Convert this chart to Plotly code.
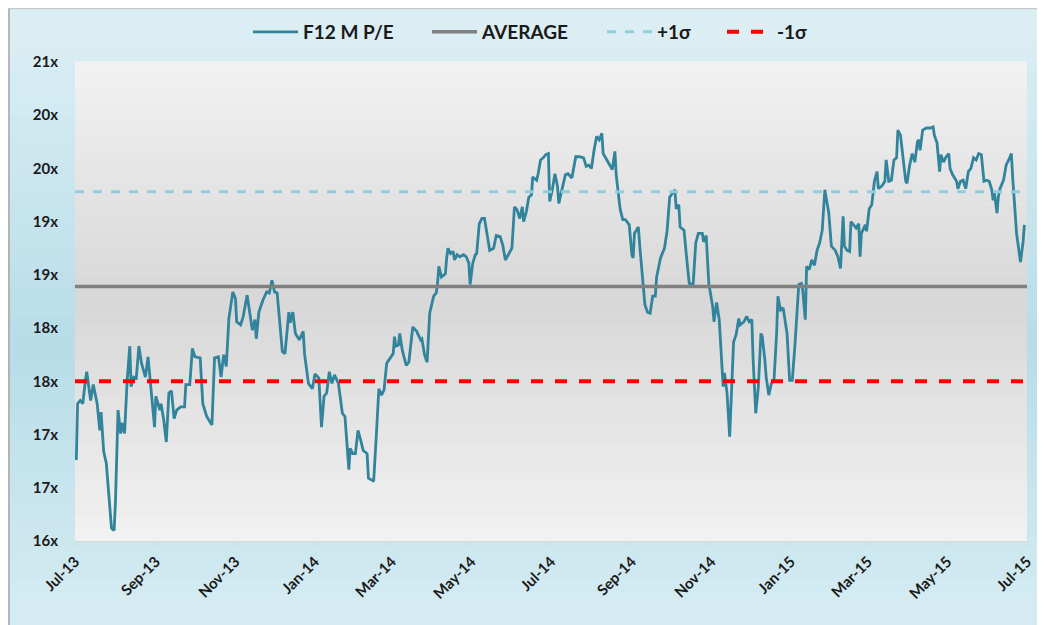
import pandas as pd
import plotly.graph_objects as go

# days since 1 Jul 2013, forward 12m P/E
days = [1, 2, 4, 6, 8, 9, 12, 14, 17, 19, 20, 22, 24, 26, 28, 30, 31, 33, 35, 36,
        38, 40, 42, 43, 45, 47, 49, 51, 54, 56, 59, 61, 62, 65, 66, 68, 70, 72, 74, 76,
        78, 81, 84, 85, 88, 90, 92, 96, 98, 101, 105, 107, 110, 112, 114, 116, 118, 121, 123, 124,
        127, 129, 132, 134, 136, 138, 139, 141, 144, 147, 149, 151, 153, 155, 157, 159, 161, 164, 165, 167,
        169, 172, 175, 176, 179, 182, 184, 187, 189, 191, 193, 195, 197, 199, 202, 205, 207, 210, 211, 213,
        215, 217, 219, 221, 224, 225, 228, 229, 231, 233, 235, 237, 239, 242, 244, 245, 246, 248, 249, 251,
        254, 256, 259, 262, 265, 266, 268, 270, 272, 275, 277, 278, 279, 281, 284, 285, 286, 288, 290, 291,
        293, 295, 298, 300, 302, 303, 305, 307, 308, 310, 312, 314, 316, 318, 321, 323, 326, 328, 330, 332,
        335, 337, 339, 341, 343, 344, 346, 348, 350, 351, 354, 355, 357, 359, 361, 363, 364, 366, 368, 370,
        371, 373, 376, 378, 381, 384, 387, 390, 392, 394, 396, 398, 400, 402, 404, 405, 408, 410, 412, 414,
        415, 418, 420, 422, 425, 427, 428, 429, 432, 433, 435, 437, 439, 441, 443, 445, 446, 449, 452, 454,
        456, 458, 460, 461, 463, 464, 467, 469, 471, 474, 476, 478, 481, 482, 484, 486, 489, 490, 492, 494,
        496, 497, 498, 500, 502, 504, 505, 507, 509, 510, 513, 515, 517, 519, 520, 522, 524, 526, 527, 529,
        530, 532, 534, 536, 538, 539, 541, 543, 546, 548, 550, 552, 555, 557, 558, 560, 561, 563, 565, 567,
        569, 571, 573, 575, 578, 580, 583, 585, 587, 589, 590, 592, 594, 595, 597, 599, 601, 602, 603, 606,
        607, 609, 611, 613, 615, 616, 619, 621, 622, 624, 626, 628, 630, 631, 633, 635, 637, 638, 640, 642,
        644, 646, 647, 648, 650, 653, 656, 658, 659, 661, 663, 664, 666, 668, 670, 671, 673, 676, 677, 679,
        681, 683, 685, 687, 689, 691, 693, 695, 697, 699, 701, 703, 704, 705, 707, 708, 709, 712, 714, 716,
        718, 719, 721, 722, 725, 727, 728]
pe = [16.76, 17.29, 17.32, 17.29, 17.51, 17.59, 17.32, 17.47, 17.29, 17.04, 17.21, 16.84, 16.73, 16.42, 16.12, 16.10, 16.36, 17.23, 17.01, 17.11,
      17.01, 17.51, 17.83, 17.45, 17.54, 17.53, 17.83, 17.67, 17.54, 17.73, 17.36, 17.07, 17.36, 17.23, 17.29, 17.14, 16.93, 17.39, 17.41, 17.15,
      17.23, 17.26, 17.26, 17.47, 17.47, 17.81, 17.73, 17.72, 17.29, 17.17, 17.09, 17.72, 17.73, 17.54, 17.75, 17.64, 18.09, 18.34, 18.28, 18.06,
      18.03, 18.11, 18.31, 18.12, 17.98, 18.08, 17.90, 18.15, 18.26, 18.34, 18.33, 18.45, 18.34, 18.33, 18.08, 17.78, 17.76, 18.15, 18.05, 18.15,
      17.95, 17.89, 17.97, 17.76, 17.48, 17.43, 17.57, 17.53, 17.07, 17.36, 17.39, 17.59, 17.48, 17.56, 17.48, 17.20, 17.17, 16.67, 16.87, 16.82,
      16.82, 17.04, 16.95, 16.85, 16.82, 16.59, 16.57, 16.56, 16.98, 17.43, 17.37, 17.42, 17.67, 17.73, 17.76, 17.92, 17.83, 17.84, 17.95, 17.79,
      17.65, 17.68, 18.01, 17.97, 17.89, 17.90, 17.75, 17.68, 18.14, 18.30, 18.33, 18.42, 18.58, 18.48, 18.51, 18.66, 18.75, 18.70, 18.72, 18.64,
      18.69, 18.67, 18.69, 18.67, 18.61, 18.41, 18.61, 18.69, 18.70, 18.98, 19.03, 19.03, 18.89, 18.73, 18.75, 18.87, 18.86, 18.78, 18.64, 18.69,
      18.75, 19.14, 19.11, 19.03, 19.14, 19.00, 19.09, 19.23, 19.25, 19.42, 19.39, 19.44, 19.58, 19.60, 19.63, 19.64, 19.19, 19.30, 19.45, 19.33,
      19.17, 19.28, 19.44, 19.45, 19.41, 19.61, 19.61, 19.60, 19.52, 19.53, 19.50, 19.67, 19.80, 19.77, 19.83, 19.64, 19.58, 19.53, 19.49, 19.66,
      19.44, 19.12, 19.02, 19.02, 18.97, 18.69, 18.66, 18.89, 18.95, 18.78, 18.51, 18.22, 18.15, 18.14, 18.30, 18.30, 18.48, 18.66, 18.75, 18.91,
      19.23, 19.27, 19.30, 19.12, 19.16, 18.95, 18.92, 18.66, 18.42, 18.41, 18.80, 18.89, 18.89, 18.81, 18.87, 18.42, 18.20, 18.06, 18.24, 18.08,
      17.58, 17.45, 17.58, 17.39, 16.98, 17.51, 17.87, 17.94, 18.09, 18.03, 18.06, 18.11, 18.06, 18.08, 17.70, 17.20, 17.45, 17.95, 17.92, 17.70,
      17.54, 17.37, 17.48, 17.51, 17.95, 18.30, 18.17, 18.19, 17.95, 17.51, 17.51, 17.83, 18.41, 18.42, 18.36, 18.08, 18.58, 18.55, 18.64, 18.59,
      18.73, 18.80, 18.92, 19.30, 19.08, 18.77, 18.73, 18.67, 18.56, 19.05, 18.77, 18.73, 18.72, 19.00, 18.97, 18.94, 18.98, 18.67, 18.89, 18.97,
      18.91, 19.12, 19.16, 19.38, 19.47, 19.31, 19.34, 19.38, 19.58, 19.38, 19.39, 19.58, 19.60, 19.86, 19.81, 19.58, 19.38, 19.36, 19.53, 19.64,
      19.56, 19.75, 19.77, 19.67, 19.86, 19.88, 19.88, 19.89, 19.81, 19.74, 19.47, 19.63, 19.56, 19.61, 19.64, 19.50, 19.44, 19.38, 19.31, 19.38,
      19.39, 19.31, 19.47, 19.50, 19.60, 19.58, 19.64, 19.63, 19.38, 19.39, 19.38, 19.30, 19.20, 19.27, 19.08, 19.23, 19.30, 19.39, 19.53, 19.58,
      19.64, 19.42, 19.11, 18.89, 18.62, 18.81, 18.97]

average = 18.39
plus_sigma = 19.28
minus_sigma = 17.50

y_ticks = [16, 16.5, 17, 17.5, 18, 18.5, 19, 19.5, 20, 20.5]
y_labels = ["16x", "17x", "17x", "18x", "18x", "19x", "19x", "20x", "20x", "21x"]

start = pd.Timestamp("2013-07-01")
end = pd.Timestamp("2015-07-01")
dates = start + pd.to_timedelta(days, unit="D")
x_ticks = pd.date_range(start, end, freq="2MS")
x_labels = [d.strftime("%b-%y") for d in x_ticks]

font = "Lato"

# page sits 8px in from the window edge; plot area spans px 75..1027 x 62..541
H = 479
W = 952

fig = go.Figure()
fig.add_trace(go.Scatter(x=dates, y=pe, mode="lines", name="F12 M P/E", legend="legend",
                         line=dict(color="#31849b", width=2.8)))
fig.add_trace(go.Scatter(x=[start, end], y=[average, average], mode="lines", name="AVERAGE",
                         legend="legend2", line=dict(color="#808080", width=3.5)))
fig.add_trace(go.Scatter(x=[start, end], y=[plus_sigma, plus_sigma], mode="lines", name="+1σ",
                         legend="legend3", line=dict(color="#92cddc", width=3, dash="dash")))
fig.add_trace(go.Scatter(x=[start, end], y=[minus_sigma, minus_sigma], mode="lines", name="-1σ",
                         legend="legend4", line=dict(color="#ff0000", width=4, dash="dash")))

n = 40
shapes = []
# outer area gradient (paper coords extend into margins)
x_lo, x_hi = -67 / W, 1 + 18 / W
y_lo, y_hi = -84 / H, 1 + 54 / H
for i in range(n):
    t = (i + 0.5) / n
    k = min(abs(t - 0.45) * 2, 1)
    r = int(184 + (218 - 184) * k)
    g = int(221 + (238 - 221) * k)
    b = int(233 + (244 - 233) * k)
    y0 = y_lo + (y_hi - y_lo) * i / n
    y1 = y_lo + (y_hi - y_lo) * (i + 1) / n
    shapes.append(dict(type="rect", xref="paper", yref="paper", x0=x_lo, x1=x_hi,
                       y0=y0, y1=y1 + 0.003, line=dict(width=0),
                       fillcolor=f"rgb({r},{g},{b})", layer="below"))
# plot area: light at top and bottom, darker around the middle
for i in range(n):
    t = (i + 0.5) / n
    k = abs(t - 0.5) * 2
    g = int(216 + (242 - 216) * k)
    shapes.append(dict(type="rect", xref="paper", yref="paper", x0=0, x1=1,
                       y0=i / n, y1=(i + 1) / n + 0.002, line=dict(width=0),
                       fillcolor=f"rgb({g},{g},{g})", layer="below"))
# frame
shapes.append(dict(type="line", xref="paper", yref="paper", x0=x_lo + 0.001, x1=x_lo + 0.001,
                   y0=y_lo, y1=y_hi, line=dict(color="#a8a8a8", width=1.5)))
shapes.append(dict(type="line", xref="paper", yref="paper", x0=x_lo, x1=x_hi,
                   y0=y_hi - 0.001, y1=y_hi - 0.001, line=dict(color="#c8c8c8", width=1.5)))


def legend_at(px):
    return dict(orientation="h", x=(px - 75) / W, xanchor="left", y=(541 - 32) / H, yanchor="middle",
                font=dict(family=font, size=19, color="#1a1a1a", weight="bold"),
                bgcolor="rgba(0,0,0,0)", itemwidth=45)


fig.update_layout(
    width=1037, height=617,
    margin=dict(l=67, r=18, t=54, b=84, autoexpand=False),
    paper_bgcolor="#cfe8f0",
    plot_bgcolor="rgba(0,0,0,0)",
    shapes=shapes,
    showlegend=True,
    legend=legend_at(248),
    legend2=legend_at(427),
    legend3=legend_at(602),
    legend4=legend_at(722),
    xaxis=dict(range=[start, end], tickvals=x_ticks, ticktext=x_labels, tickangle=-45,
               showgrid=False, zeroline=False, showline=True, linecolor="#d9d9d9",
               ticks="outside", ticklen=5, tickcolor="#d9d9d9",
               tickfont=dict(family=font, size=15, color="#1a1a1a", weight="bold")),
    yaxis=dict(range=[16, 20.5], tickvals=y_ticks, ticktext=y_labels,
               showgrid=False, zeroline=False, showline=False, ticks="",
               ticklabelstandoff=16,
               tickfont=dict(family=font, size=15, color="#1a1a1a", weight="bold")),
)

fig.write_html("out.html")
